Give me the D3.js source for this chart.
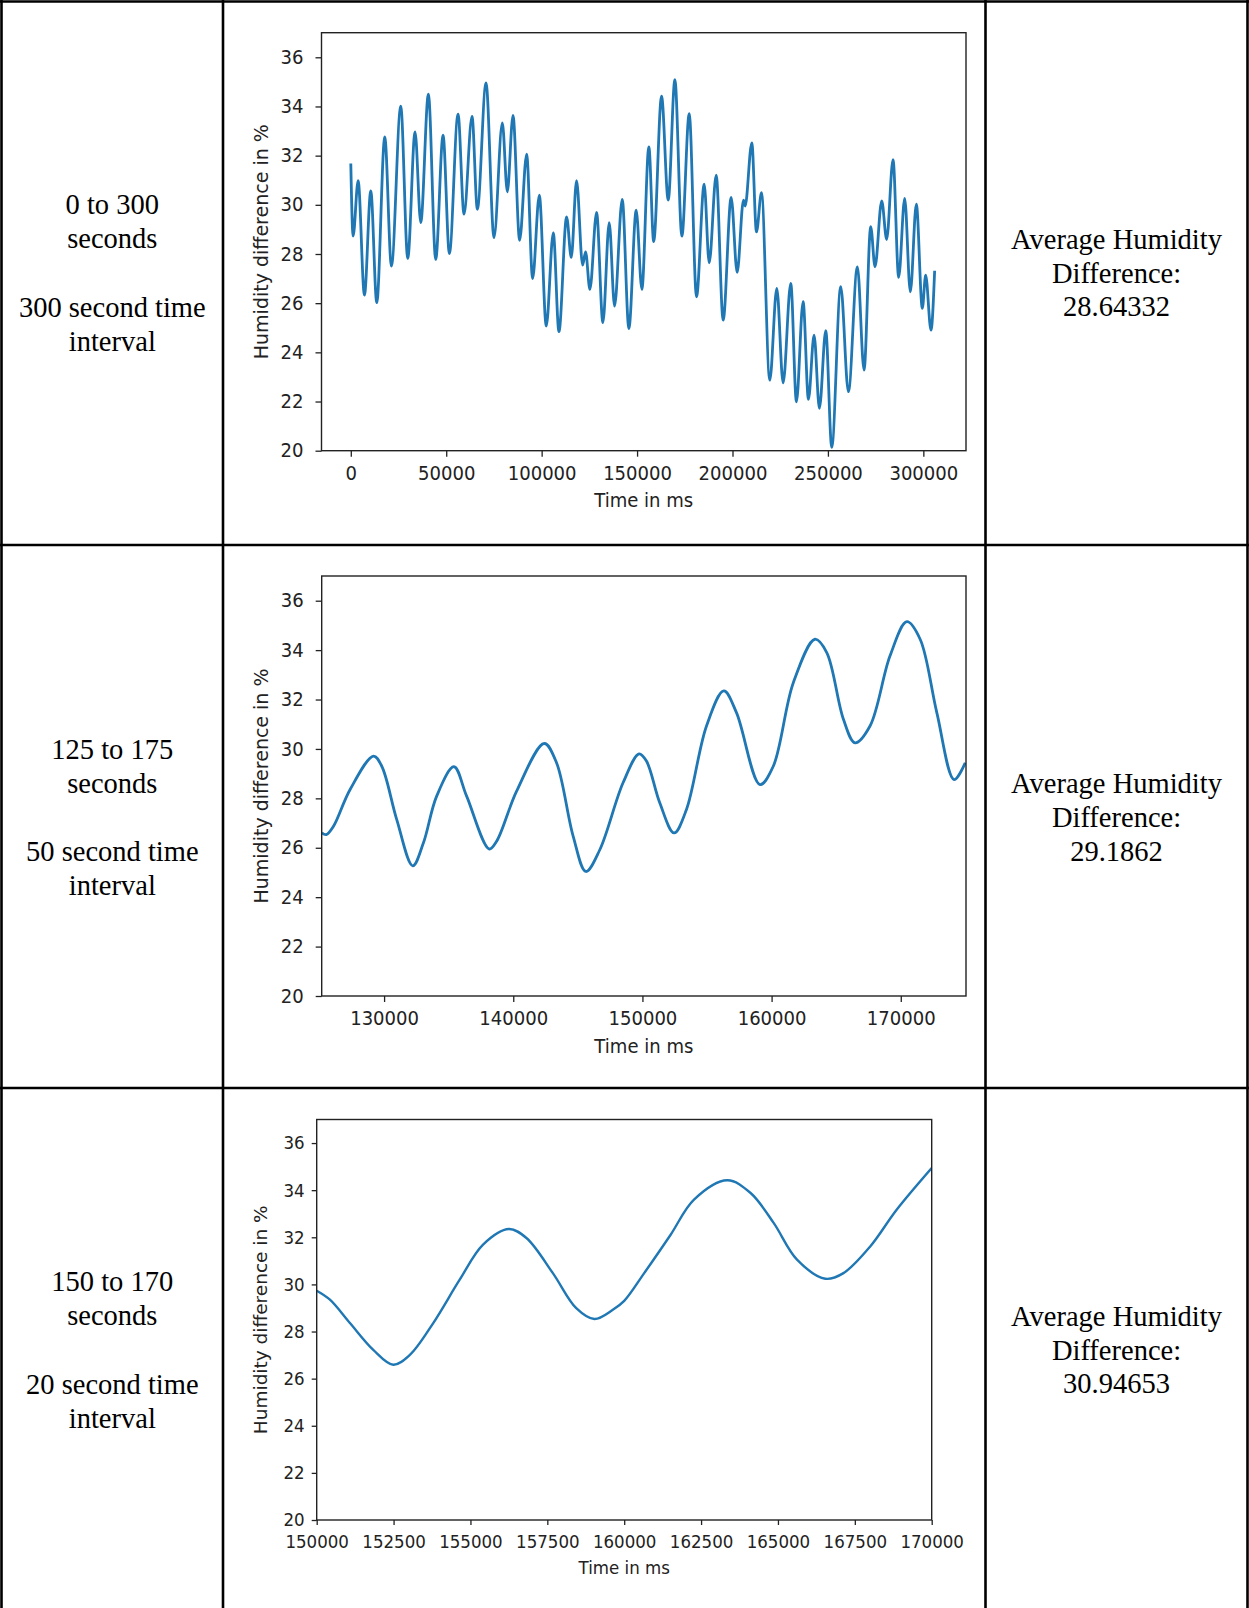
<!DOCTYPE html>
<html>
<head>
<meta charset="utf-8">
<script src="https://cdn.jsdelivr.net/npm/d3@7"></script>
<style>
  html, body { margin: 0; padding: 0; background: #ffffff; }
  svg { display: block; }
</style>
</head>
<body>
<script>
// ---------------- DATA ----------------
// Chart 1: 0 to 300 seconds (extrema)
const chart1Time = [0,1220,3840,7150,10470,13610,17800,21290,26180,29840,33680,36650,40660,44500,48340,51650,56190,59330,63520,66310,70850,75040,79400,82020,84980,88470,92140,95280,98770,102430,106100,109060,113080,115520,118310,121450,123020,125290,128780,132100,135410,138200,142220,145710,149550,152510,156180,158700,162830,166320,169810,173480,177320,181150,185170,187790,191450,195110,199300,202440,205760,206630,210120,212560,215180,219540,223210,226520,230540,233500,237000,239790,242750,245540,248860,252000,256710,260730,265440,268930,272420,274690,278180,280790,284110,287080,290220,293180,296320,299470,301210,304000,305920];
const chart1Humidity = [31.68,28.73,30.98,26.33,30.57,26.02,32.76,27.51,34.01,27.82,32.97,29.28,34.50,27.78,32.83,28.02,33.69,29.62,33.60,29.82,34.96,28.67,33.33,30.53,33.64,28.56,32.06,27.00,30.39,25.07,28.86,24.84,29.51,27.86,30.98,27.55,28.09,26.56,29.69,25.21,29.27,25.88,30.22,24.97,29.78,26.56,32.36,28.50,34.42,30.19,35.09,28.73,33.71,26.26,30.84,27.64,31.21,25.31,30.30,27.25,30.19,29.95,32.52,28.90,30.49,22.87,26.60,22.76,26.80,21.99,26.06,22.09,24.70,21.72,24.88,20.14,26.67,22.40,27.48,23.28,29.11,27.48,30.16,28.59,31.84,27.05,30.26,26.46,30.03,25.79,27.14,24.90,27.32];

// Chart 2: 125 to 175 seconds
const chart2Time = [125180,125520,126080,127370,129180,129820,130980,132220,133040,134070,135410,136390,138140,138710,140260,142400,143350,144640,145620,146700,148500,149740,150310,151340,152450,153410,154960,156300,157280,159100,160130,161680,163360,164270,165560,166460,167620,169170,170470,171500,172790,174130,174990];
const chart2Humidity = [26.60,26.53,26.87,28.36,29.71,29.30,27.14,25.27,26.19,28.09,29.28,28.09,25.95,26.26,28.29,30.22,29.44,26.46,25.04,25.92,28.63,29.80,29.51,27.82,26.60,27.55,30.93,32.35,31.47,28.56,29.30,32.68,34.44,33.90,31.20,30.25,30.93,33.77,35.15,34.44,31.47,28.76,29.44];

// Chart 3: 150 to 170 seconds
const chart3Time = [150000,150430,151080,151840,152490,153030,153790,154650,155410,156250,156820,157680,158440,159030,159630,160000,160650,161510,162270,163350,164110,164860,165620,166540,167130,168000,168860,170000];
const chart3Humidity = [29.73,29.35,28.36,27.22,26.59,27.01,28.36,30.20,31.69,32.35,31.97,30.48,28.99,28.53,28.92,29.30,30.48,32.11,33.60,34.42,33.88,32.61,31.05,30.24,30.48,31.61,33.17,34.94];

// Ticks
const yTickValues = [20,22,24,26,28,30,32,34,36];
const chart1XTicks = [0,50000,100000,150000,200000,250000,300000];
const chart2XTicks = [130000,140000,150000,160000,170000];
const chart3XTicks = [150000,152500,155000,157500,160000,162500,165000,167500,170000];

// Table texts
const intervalRanges = ["0 to 300", "125 to 175", "150 to 170"];
const intervalLengths = ["300 second time", "50 second time", "20 second time"];
const averageHumidity = ["28.64332", "29.1862", "30.94653"];
const xAxisLabel = "Time in ms";
const yAxisLabel = "Humidity difference in %";

// ---------------- DRAW ----------------
const W = 1249, H = 1608;
const svg = d3.select("body").append("svg").attr("width", W).attr("height", H);
svg.append("rect").attr("width", W).attr("height", H).attr("fill", "#fff");

const ink = "#222";

function drawChart(o, idx) {
  const g = svg.append("g");
  const x = d3.scaleLinear().domain(o.xDomain).range([o.left, o.right]);
  const y = d3.scaleLinear().domain([20, 37]).range([o.bottom, o.top]);

  const clipId = "clip" + idx;
  svg.append("clipPath").attr("id", clipId).append("rect")
    .attr("x", o.left).attr("y", o.top)
    .attr("width", o.right - o.left).attr("height", o.bottom - o.top);

  const pts = o.times.map((t, i) => [t, o.values[i]]);
  const line = d3.line().x(d => x(d[0])).y(d => y(d[1])).curve(o.curve);
  g.append("path").attr("d", line(pts))
    .attr("fill", "none").attr("stroke", "#1f77b4")
    .attr("stroke-width", o.lw).attr("stroke-linejoin", "round")
    .attr("clip-path", `url(#${clipId})`);

  // x axis
  const xAxis = d3.axisBottom(x).tickValues(o.xTicks).tickFormat(d3.format("d"))
    .tickSize(o.tick).tickPadding(o.xPad);
  g.append("g").attr("transform", `translate(0,${o.bottom})`).call(xAxis)
    .call(a => a.select(".domain").remove())
    .call(a => a.selectAll(".tick line").attr("stroke", ink).attr("stroke-width", 1.3))
    .call(a => a.selectAll(".tick text")
      .attr("font-family", "DejaVu Sans").attr("font-size", o.fs).attr("fill", ink)
      .attr("transform", `scale(${o.sx},1)`));

  // y axis
  const yAxis = d3.axisLeft(y).tickValues(yTickValues).tickFormat(d3.format("d"))
    .tickSize(o.tick).tickPadding(o.yPad);
  g.append("g").attr("transform", `translate(${o.left},0)`).call(yAxis)
    .call(a => a.select(".domain").remove())
    .call(a => a.selectAll(".tick line").attr("stroke", ink).attr("stroke-width", 1.3))
    .call(a => a.selectAll(".tick text")
      .attr("font-family", "DejaVu Sans").attr("font-size", o.fs).attr("fill", ink)
      .attr("x", -(o.tick + o.yPad) / o.sx)
      .attr("transform", `scale(${o.sx},1)`));

  // frame
  g.append("rect").attr("x", o.left).attr("y", o.top)
    .attr("width", o.right - o.left).attr("height", o.bottom - o.top)
    .attr("fill", "none").attr("stroke", ink).attr("stroke-width", 1.4);

  // labels
  g.append("text")
    .attr("transform", `translate(${(o.left + o.right) / 2},${o.bottom + o.xLabelOff}) scale(${o.sx},1)`)
    .attr("text-anchor", "middle").attr("dy", "0.35em")
    .attr("font-family", "DejaVu Sans").attr("font-size", o.fs).attr("fill", ink)
    .text(xAxisLabel);
  g.append("text")
    .attr("transform", `translate(${o.yLabelX},${(o.top + o.bottom) / 2}) rotate(-90)`)
    .attr("text-anchor", "middle").attr("dy", "0.35em")
    .attr("font-family", "DejaVu Sans").attr("font-size", o.fs).attr("fill", ink)
    .text(yAxisLabel);
}

drawChart({
  left: 321.5, right: 966, top: 32.7, bottom: 450.7,
  xDomain: [-15350, 322350], xTicks: chart1XTicks,
  times: chart1Time, values: chart1Humidity, curve: d3.curveMonotoneX,
  lw: 2.8, fs: 19, sx: 0.95, tick: 6, xPad: 10, yPad: 12,
  xLabelOff: 50, yLabelX: 261.5
}, 1);

drawChart({
  left: 321.7, right: 966, top: 576, bottom: 996,
  xDomain: [125170, 175050], xTicks: chart2XTicks,
  times: chart2Time, values: chart2Humidity, curve: d3.curveCatmullRom.alpha(0.5),
  lw: 2.8, fs: 19, sx: 0.95, tick: 6, xPad: 9.5, yPad: 12,
  xLabelOff: 50, yLabelX: 261.5
}, 2);

drawChart({
  left: 316.7, right: 931.7, top: 1119.5, bottom: 1520,
  xDomain: [150000, 170000], xTicks: chart3XTicks,
  times: chart3Time, values: chart3Humidity, curve: d3.curveCatmullRom.alpha(0.5),
  lw: 2.4, fs: 18.5, sx: 0.9, tick: 5, xPad: 9.5, yPad: 7,
  xLabelOff: 47.5, yLabelX: 260.5
}, 3);

// ---------------- TABLE ----------------
const border = svg.append("g").attr("stroke", "#000").attr("stroke-width", 2.6);
[1.5, 223, 985.5, 1247.5].forEach(xx =>
  border.append("line").attr("x1", xx).attr("x2", xx).attr("y1", 0).attr("y2", H));
[1.5, 545, 1088].forEach(yy =>
  border.append("line").attr("x1", 0).attr("x2", W).attr("y1", yy).attr("y2", yy));

const rowMids = [274, 818.5, 1351];
const leftX = 112.3, rightX = 1116.5;
const serif = "Liberation Serif, Times New Roman, serif";

rowMids.forEach((mid, r) => {
  const leftLines = [intervalRanges[r], "seconds", "", intervalLengths[r], "interval"];
  leftLines.forEach((t, i) => {
    if (!t) return;
    svg.append("text").attr("x", leftX).attr("y", mid + (i - 2) * 34.1)
      .attr("dy", "0.3em").attr("text-anchor", "middle")
      .attr("font-family", serif).attr("font-size", 28.5).attr("fill", "#000")
      .text(t);
  });
  const rightLines = ["Average Humidity", "Difference:", averageHumidity[r]];
  rightLines.forEach((t, i) => {
    svg.append("text").attr("x", rightX).attr("y", mid + (i - 1) * 33.8)
      .attr("dy", "0.3em").attr("text-anchor", "middle")
      .attr("font-family", serif).attr("font-size", 28.5).attr("fill", "#000")
      .text(t);
  });
});
</script>
</body>
</html>
